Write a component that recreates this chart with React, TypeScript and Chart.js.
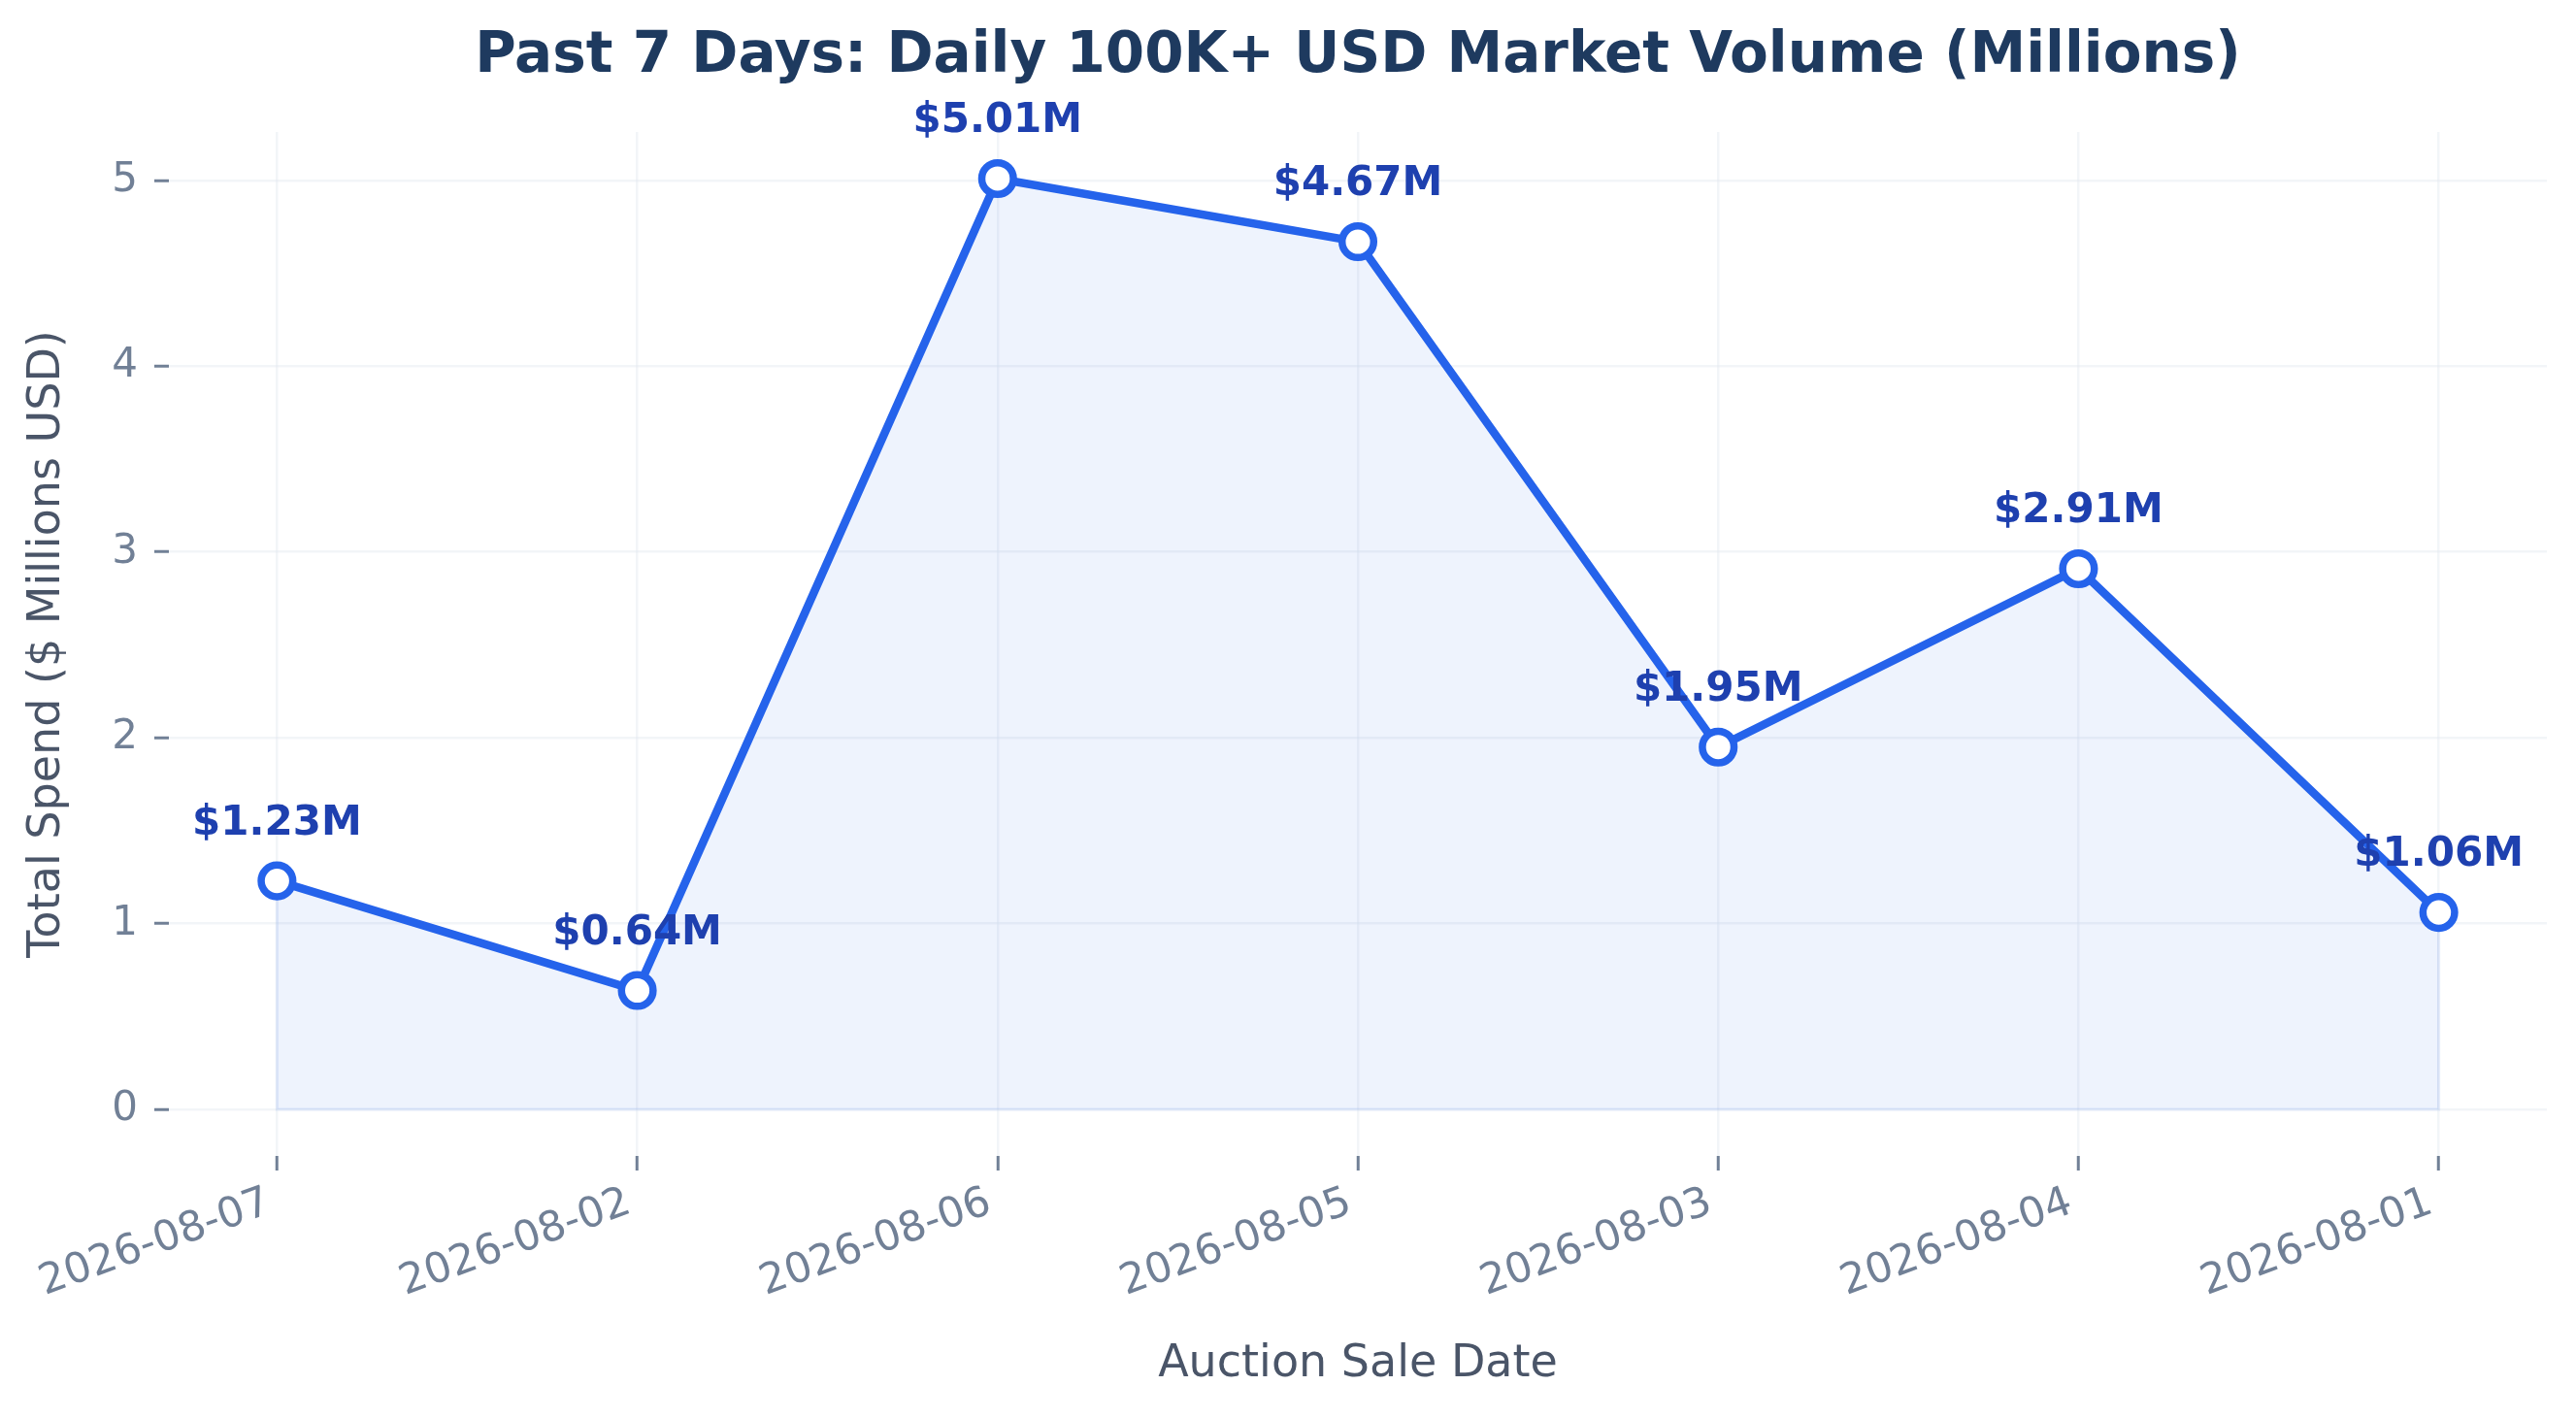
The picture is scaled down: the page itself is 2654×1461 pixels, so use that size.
import React, { useEffect, useRef } from 'react';
import { Chart, registerables } from 'chart.js';

Chart.register(...registerables);

const saleDates = ['2026-08-07', '2026-08-02', '2026-08-06', '2026-08-05', '2026-08-03', '2026-08-04', '2026-08-01'];
const spendMillions = [1.23, 0.64, 5.01, 4.67, 1.95, 2.91, 1.06];

const chartTitle = 'Past 7 Days: Daily 100K+ USD Market Volume (Millions)';
const xAxisTitle = 'Auction Sale Date';
const yAxisTitle = 'Total Spend ($ Millions USD)';

const FONT = '"DejaVu Sans", "Noto Sans", sans-serif';
const LINE_BLUE = '#2563eb';

// matplotlib-like 5% margins around the data (fill goes down to zero)
const yLo = Math.min(0, ...spendMillions);
const yHi = Math.max(...spendMillions);
const yPad = (yHi - yLo) * 0.05;
const xPad = (saleDates.length - 1) * 0.05;

const titlePlugin = {
  id: 'titleText',
  afterDraw(chart: any) {
    const { ctx, chartArea } = chart;
    ctx.save();
    ctx.font = `bold 58px ${FONT}`;
    ctx.fillStyle = '#1e3a5f';
    ctx.textAlign = 'center';
    ctx.textBaseline = 'alphabetic';
    ctx.fillText(chartTitle, (chartArea.left + chartArea.right) / 2, 74);
    ctx.restore();
  },
};

// faint outline of the filled area (bottom edge and the two ends)
const fillEdgePlugin = {
  id: 'fillEdge',
  beforeDatasetsDraw(chart: any) {
    const { ctx } = chart;
    const pts = chart.getDatasetMeta(0).data;
    if (!pts.length) return;
    const y0 = chart.scales.y.getPixelForValue(0);
    const first = pts[0];
    const last = pts[pts.length - 1];
    ctx.save();
    ctx.strokeStyle = 'rgba(37, 99, 235, 0.09)';
    ctx.lineWidth = 3;
    ctx.beginPath();
    ctx.moveTo(first.x, first.y);
    ctx.lineTo(first.x, y0);
    ctx.lineTo(last.x, y0);
    ctx.lineTo(last.x, last.y);
    ctx.stroke();
    ctx.restore();
  },
};

const valueLabelPlugin = {
  id: 'valueLabels',
  afterDatasetsDraw(chart: any) {
    const { ctx } = chart;
    const pts = chart.getDatasetMeta(0).data;
    ctx.save();
    ctx.font = `bold 42px ${FONT}`;
    ctx.fillStyle = '#1e40af';
    ctx.textAlign = 'center';
    ctx.textBaseline = 'alphabetic';
    pts.forEach((pt: any, i: number) => {
      ctx.fillText(`$${spendMillions[i].toFixed(2)}M`, pt.x, pt.y - 48);
    });
    ctx.restore();
  },
};

export default function App() {
  const canvasRef = useRef<HTMLCanvasElement>(null);
  const chartRef = useRef<Chart | null>(null);

  useEffect(() => {
    if (!canvasRef.current) return;
    if (chartRef.current) chartRef.current.destroy();

    chartRef.current = new Chart(canvasRef.current, {
      type: 'line',
      data: {
        datasets: [
          {
            data: spendMillions.map((v, i) => ({ x: i, y: v })),
            borderColor: LINE_BLUE,
            borderWidth: 8.5,
            tension: 0,
            fill: 'origin',
            backgroundColor: 'rgba(37, 99, 235, 0.08)',
            pointRadius: 16.3,
            pointHoverRadius: 16.3,
            pointBorderWidth: 7.5,
            pointBackgroundColor: '#ffffff',
            pointBorderColor: LINE_BLUE,
          },
        ],
      },
      options: {
        animation: false,
        responsive: true,
        maintainAspectRatio: false,
        devicePixelRatio: 1,
        layout: { padding: { top: 136, right: 30, bottom: 0, left: 0 } },
        plugins: {
          legend: { display: false },
          title: { display: false },
          tooltip: { enabled: false },
        },
        scales: {
          x: {
            type: 'linear',
            min: -xPad,
            max: saleDates.length - 1 + xPad,
            border: { display: false },
            grid: {
              color: 'rgba(226, 232, 240, 0.45)',
              lineWidth: 2.5,
              tickColor: '#718096',
              tickWidth: 3,
              tickLength: 15,
            },
            ticks: {
              stepSize: 1,
              includeBounds: false,
              autoSkip: false,
              minRotation: 20,
              maxRotation: 20,
              padding: 5,
              color: '#718096',
              font: { family: FONT, size: 43 },
              callback: (value: any) => {
                const d = saleDates[Number(value)];
                return d ? d + '\u2009' : '';
              },
            },
            title: {
              display: true,
              text: xAxisTitle,
              color: '#4a5568',
              font: { family: FONT, size: 46 },
              padding: { top: 0, bottom: 27 },
            },
            afterFit: (scale: any) => {
              scale.height = 270;
              scale.paddingLeft = 0;
              scale.paddingRight = 0;
            },
          },
          y: {
            min: yLo - yPad,
            max: yHi + yPad,
            border: { display: false },
            grid: {
              color: 'rgba(226, 232, 240, 0.45)',
              lineWidth: 2.5,
              tickColor: '#718096',
              tickWidth: 3,
              tickLength: 15,
            },
            ticks: {
              stepSize: 1,
              includeBounds: false,
              padding: 17,
              color: '#718096',
              font: { family: FONT, size: 42 },
              callback: (value: any) => String(value),
            },
            title: {
              display: true,
              text: yAxisTitle,
              color: '#4a5568',
              font: { family: FONT, size: 46 },
              padding: { top: 21, bottom: 0 },
            },
            afterFit: (scale: any) => {
              scale.width = 174;
              scale.paddingTop = 0;
              scale.paddingBottom = 0;
            },
          },
        },
      },
      plugins: [titlePlugin, fillEdgePlugin, valueLabelPlugin],
    } as any);

    return () => {
      if (chartRef.current) {
        chartRef.current.destroy();
        chartRef.current = null;
      }
    };
  }, []);

  return (
    <div style={{ position: 'fixed', left: 0, top: 0, width: 2654, height: 1461, background: '#ffffff' }}>
      <canvas ref={canvasRef}></canvas>
    </div>
  );
}
